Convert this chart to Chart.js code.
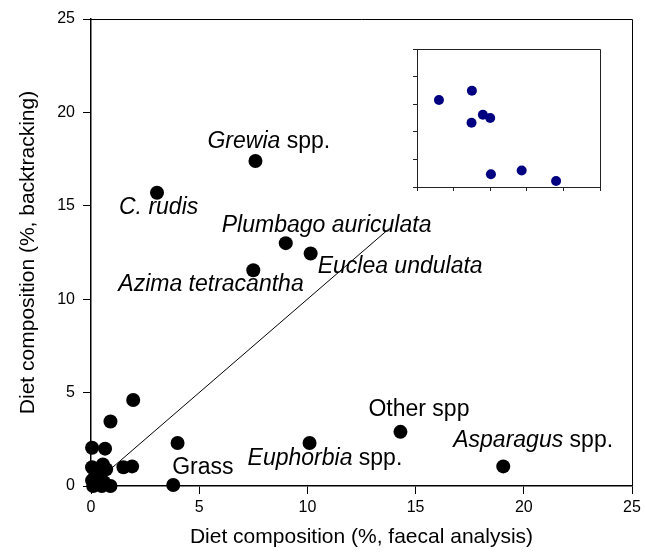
<!DOCTYPE html>
<html>
<head>
<meta charset="utf-8">
<script src="https://cdn.jsdelivr.net/npm/chart.js@4.4.0/dist/chart.umd.min.js"></script>
<style>
  html, body { margin: 0; padding: 0; background: #fff; }
  #wrap { position: relative; width: 645px; height: 553px; }
  #main { position: absolute; left: 0; top: 0; }
  #inset { position: absolute; left: 400px; top: 40px; }
</style>
</head>
<body>
<div id="wrap">
  <canvas id="main" width="645" height="553"></canvas>
  <canvas id="inset" width="215" height="155"></canvas>
</div>
<script>
// named species: faecal analysis (x) vs backtracking (y), in %
const namedX = [7.6, 3.05, 9.0, 10.15, 7.5, 14.3, 10.1, 19.05, 3.8];
const namedY = [17.4, 15.7, 13.0, 12.45, 11.55, 2.9, 2.3, 1.05, 0.05];
const speciesLabels = [
  [["Grewia", true], [" spp.", false]],
  [["C. rudis", true]],
  [["Plumbago auriculata", true]],
  [["Euclea undulata", true]],
  [["Azima tetracantha", true]],
  [["Other spp", false]],
  [["Euphorbia", true], [" spp.", false]],
  [["Asparagus", true], [" spp.", false]],
  [["Grass", false]]
];
// unnamed minor species
const minorX = [1.95, 0.9, 0.05, 0.65, 4.0, 0.05, 0.55, 1.5, 1.9, 0.9, 0.05, 0.2, 0.3, 0.4, 0.6, 0.1, 0.5, 0.15, 0.7];
const minorY = [4.6, 3.45, 2.05, 2.0, 2.3, 1.0, 1.15, 1.0, 1.05, 0.0, 0.3, 0.6, 0.1, 0.4, 0.2, 0.0, 0.0, 0.15, 0.9];
// 1:1 line ends
const lineX = [1, 13.8];
const lineY = [1, 13.8];
const xTicks = [0, 5, 10, 15, 20, 25];
const yTicks = [0, 5, 10, 15, 20, 25];

// inset values
const insetX = [0.6, 1.5, 1.8, 2.0, 1.49, 2.02, 2.86, 3.8];
const insetY = [3.15, 3.49, 2.62, 2.5, 2.33, 0.46, 0.6, 0.22];

// label offsets (px) from their point: left edge, vertical centre
const labelDx = [-48, -38, -64, 7, -135, -32, -62, -50, -1];
const labelDy = [-19, 15, -18, 13, 14, -22, 16, -26, -17];

Chart.defaults.font.family = "'Liberation Sans', Arial, sans-serif";
Chart.defaults.color = "#000";

const toPts = (xs, ys) => xs.map((v, i) => ({ x: v, y: ys[i] }));

const frameAndLabels = {
  id: "frameAndLabels",
  afterDraw(chart) {
    const { ctx, chartArea: a, scales: { x, y } } = chart;
    ctx.save();
    ctx.strokeStyle = "#000";
    ctx.lineWidth = 1;
    ctx.beginPath();
    ctx.moveTo(a.left, a.top + 0.5);
    ctx.lineTo(a.right + 0.5, a.top + 0.5);
    ctx.lineTo(a.right + 0.5, a.bottom);
    ctx.stroke();
    ctx.textBaseline = "middle";
    ctx.fillStyle = "#000";
    speciesLabels.forEach((parts, i) => {
      let px = x.getPixelForValue(namedX[i]) + labelDx[i];
      const py = y.getPixelForValue(namedY[i]) + labelDy[i];
      parts.forEach(([text, italic]) => {
        ctx.font = (italic ? "italic " : "") + "23px 'Liberation Sans', Arial, sans-serif";
        ctx.fillText(text, px, py);
        px += ctx.measureText(text).width;
      });
    });
    ctx.restore();
  }
};

new Chart(document.getElementById("main"), {
  type: "scatter",
  data: {
    datasets: [
      {
        data: toPts(namedX, namedY),
        backgroundColor: "#000",
        borderWidth: 0,
        pointRadius: 7,
        clip: false,
        order: 1
      },
      {
        data: toPts(minorX, minorY),
        backgroundColor: "#000",
        borderWidth: 0,
        pointRadius: 7,
        clip: false,
        order: 1
      },
      {
        type: "line",
        data: toPts(lineX, lineY),
        borderColor: "#000",
        borderWidth: 1,
        pointRadius: 0,
        order: 2
      }
    ]
  },
  options: {
    responsive: false,
    animation: false,
    events: [],
    layout: { padding: { left: 0, right: 13, top: 19, bottom: 0 } },
    plugins: { legend: { display: false }, tooltip: { enabled: false } },
    scales: {
      x: {
        type: "linear",
        min: 0, max: 25,
        afterBuildTicks: (s) => { s.ticks = xTicks.map((v) => ({ value: v })); },
        afterFit: (s) => { s.height = 67; },
        grid: { drawOnChartArea: false, tickLength: 8, color: "#000" },
        border: { color: "#000", width: 1.5 },
        ticks: { font: { size: 16 }, padding: 4, maxRotation: 0 },
        title: {
          display: true,
          text: "Diet composition (%, faecal analysis)",
          font: { size: 21 },
          padding: { top: 0, bottom: 3 }
        }
      },
      y: {
        type: "linear",
        min: 0, max: 25,
        afterBuildTicks: (s) => { s.ticks = yTicks.map((v) => ({ value: v })); },
        afterFit: (s) => { s.width = 91; },
        grid: { drawOnChartArea: false, tickLength: 8, color: "#000" },
        border: { color: "#000", width: 1.5 },
        ticks: { font: { size: 16 }, padding: 8 },
        title: {
          display: true,
          text: "Diet composition (%, backtracking)",
          font: { size: 21 },
          padding: { top: 16, bottom: 0 }
        }
      }
    }
  },
  plugins: [frameAndLabels]
});

const insetFrame = {
  id: "insetFrame",
  afterDraw(chart) {
    const { ctx, chartArea: a } = chart;
    ctx.save();
    ctx.strokeStyle = "#222";
    ctx.lineWidth = 1;
    ctx.beginPath();
    ctx.moveTo(a.left, a.top + 0.5);
    ctx.lineTo(a.right + 0.5, a.top + 0.5);
    ctx.lineTo(a.right + 0.5, a.bottom);
    ctx.stroke();
    ctx.restore();
  }
};

new Chart(document.getElementById("inset"), {
  type: "scatter",
  data: {
    datasets: [{
      data: toPts(insetX, insetY),
      backgroundColor: "#000080",
      borderWidth: 0,
      pointRadius: 5
    }]
  },
  options: {
    responsive: false,
    animation: false,
    events: [],
    layout: { padding: { left: 0, right: 15, top: 9, bottom: 0 } },
    plugins: { legend: { display: false }, tooltip: { enabled: false } },
    scales: {
      x: {
        min: 0, max: 5,
        ticks: { display: false, stepSize: 1 },
        afterFit: (s) => { s.height = 8; },
        grid: { drawOnChartArea: false, tickLength: 4, color: "#222" },
        border: { color: "#222", width: 1 }
      },
      y: {
        min: 0, max: 5,
        ticks: { display: false, stepSize: 1 },
        afterFit: (s) => { s.width = 17; },
        grid: { drawOnChartArea: false, tickLength: 4, color: "#222" },
        border: { color: "#222", width: 1 }
      }
    }
  },
  plugins: [insetFrame]
});
</script>
</body>
</html>
